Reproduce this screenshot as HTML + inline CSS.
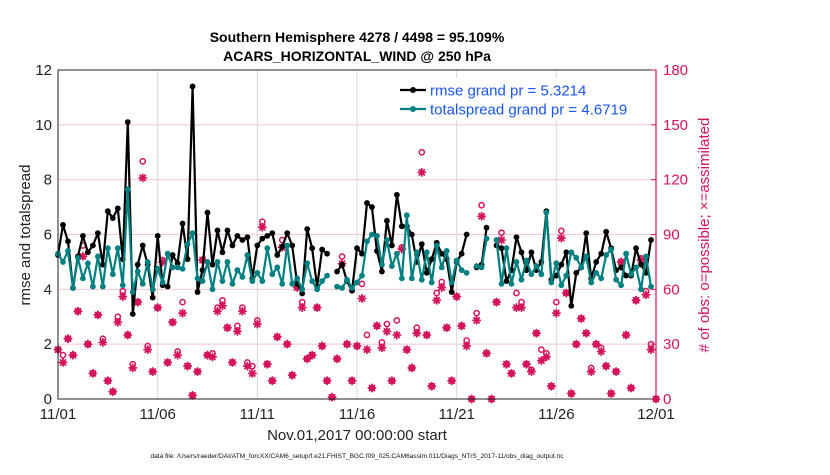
<!DOCTYPE html>
<html><head><meta charset="utf-8"><style>
body{margin:0;background:#fff}
svg text{font-family:"Liberation Sans",sans-serif}
</style></head><body>
<svg id="chart" width="830" height="470" viewBox="0 0 830 470" xmlns="http://www.w3.org/2000/svg">
<rect width="830" height="470" fill="#fff"/>
<text x="357" y="42" text-anchor="middle" font-size="14" font-weight="bold">Southern Hemisphere 4278 / 4498 = 95.109%</text>
<text x="357" y="61" text-anchor="middle" font-size="14" font-weight="bold">ACARS_HORIZONTAL_WIND @ 250 hPa</text>
<g id="grid"></g>
<g id="obs"></g>
<g id="series"></g>
<rect x="58" y="70" width="598" height="329" fill="none" stroke="#222" stroke-width="1"/>
<line x1="656" y1="70" x2="656" y2="399" stroke="#d4145a" stroke-width="1.2"/>
<g id="ticks"></g>
<text transform="translate(30,235) rotate(-90)" text-anchor="middle" font-size="15" fill="#222">rmse and totalspread</text>
<text transform="translate(709,235) rotate(-90)" text-anchor="middle" font-size="15" fill="#d4145a"># of obs: o=possible; ×=assimilated</text>
<text x="357" y="440" text-anchor="middle" font-size="15" fill="#222">Nov.01,2017 00:00:00 start</text>
<text x="357" y="458" text-anchor="middle" font-size="6.6" fill="#111">data file: /Users/raeder/DAI/ATM_forcXX/CAM6_setup/f.e21.FHIST_BGC.f09_025.CAM6assim.011/Diags_NTrS_2017-11/obs_diag_output.nc</text>
<g id="legend">
<rect x="395" y="78" width="258" height="42" fill="#fff"/>
<line x1="400" y1="90" x2="426" y2="90" stroke="#000" stroke-width="2.2"/><circle cx="413" cy="90" r="3" fill="#000"/>
<text x="430" y="95.5" font-size="15" fill="#1a56f0">rmse grand pr = 5.3214</text>
<line x1="400" y1="109" x2="426" y2="109" stroke="#008080" stroke-width="2.2"/><circle cx="413" cy="109" r="3" fill="#008080"/>
<text x="430" y="114.5" font-size="15" fill="#1a56f0">totalspread grand pr = 4.6719</text>
</g>
</svg>
<script>
const N = null;
const rmse = [5.25,6.35,5.75,4.05,5.2,5.95,5.35,5.6,6.05,4.9,6.85,6.6,6.95,5.1,10.1,3.1,4.9,5.6,4.9,3.7,5.95,4.15,4.1,5.25,4.95,6.4,5.1,11.4,3.9,4.7,6.8,4.9,6.15,5.35,6.15,5.6,5.95,5.8,5.9,4.4,5.6,5.85,5.95,6.05,5.25,5.55,6.05,5.6,4.2,3.85,6.2,5.5,4.1,5.45,5.3,N,4.65,4.9,4.3,3.95,5.5,5.3,7.15,7.0,5.4,4.65,6.5,5.6,7.45,6.3,6.3,6.0,5.0,5.65,4.6,5.1,5.7,5.3,5.1,3.9,5.0,5.3,6.0,N,4.8,4.9,6.25,N,5.6,5.5,4.3,4.7,5.9,5.35,4.7,5.35,4.7,5.0,6.85,4.35,4.5,4.9,5.35,3.4,4.6,4.8,6.05,4.4,5.0,5.3,6.1,5.5,4.7,4.8,4.5,4.5,5.5,4.9,4.6,5.8,N];
const spread = [5.3,5.0,5.4,4.05,5.15,4.4,4.95,4.1,5.2,4.1,5.5,4.55,5.5,4.15,7.65,3.9,4.65,4.2,5.0,4.0,4.75,4.25,5.3,4.8,4.8,4.75,5.65,6.05,4.4,4.3,5.0,4.0,5.0,4.3,5.0,4.2,4.7,4.45,5.25,4.3,4.6,4.3,5.5,4.55,4.8,4.2,5.6,4.2,4.4,4.0,4.95,4.3,4.0,4.3,4.5,N,4.1,4.05,4.35,4.05,4.25,4.5,5.75,6.0,5.95,4.9,5.8,4.85,5.3,4.4,6.7,4.4,5.35,4.35,5.35,4.25,5.6,4.8,5.4,4.25,5.05,4.7,4.6,N,4.85,4.8,5.85,N,5.8,4.2,5.5,4.2,5.0,4.35,5.05,4.55,4.85,4.55,6.8,4.25,4.95,4.15,4.5,5.35,5.15,4.8,5.2,4.25,4.6,4.4,5.25,5.45,4.35,4.15,5.3,4.55,4.8,4.0,5.2,4.1,N];
const nAssim = [27,20,33,24,48,78,30,14,46,31,10,4,42,56,35,17,53,121,27,15,50,75,20,42,24,47,18,2,15,76,24,23,48,51,39,20,37,48,18,14,41,94,19,10,34,83,30,13,61,50,22,24,50,29,10,1,22,74,30,10,29,55,27,6,40,28,37,10,35,82,27,17,36,124,35,7,54,61,39,10,56,40,29,0,43,100,25,0,53,87,19,14,50,50,19,15,36,21,23,7,47,88,58,3,30,44,36,15,30,26,18,3,15,75,35,6,54,76,57,27,0];
const nPoss = [27,24,33,24,48,84,30,14,46,33,10,4,45,59,35,19,53,130,29,15,50,76,20,42,26,53,18,2,15,76,24,25,50,54,39,20,40,50,20,18,43,97,19,10,34,87,30,13,61,53,22,24,50,29,10,1,22,78,30,10,29,63,35,6,40,31,41,10,43,83,27,17,39,135,35,7,58,64,39,10,56,40,32,0,47,106,25,0,53,91,19,14,58,53,19,16,36,27,25,7,53,92,58,3,30,44,36,17,30,28,18,3,15,75,35,6,54,77,59,30,0];
const xTicks = ['11/01','11/06','11/11','11/16','11/21','11/26','12/01'];
const yTicks = [0,2,4,6,8,10,12];
const rTicks = [0,30,60,90,120,150,180];

const NS='http://www.w3.org/2000/svg';
const X0=58,X1=656,Y0=399,Y1=70;
const xs = i => X0 + (X1-X0)*(i/4)/30;
const ys = v => Y0 - (Y0-Y1)*v/12;
const yr = v => Y0 - (Y0-Y1)*v/180;
function mk(tag, attrs, parent){const e=document.createElementNS(NS,tag);for(const k in attrs)e.setAttribute(k,attrs[k]);parent.appendChild(e);return e;}
const grid=document.getElementById('grid'), ticks=document.getElementById('ticks'), obs=document.getElementById('obs'), ser=document.getElementById('series');

yTicks.forEach(v=>{
  if(v>0&&v<12){const l=mk('line',{x1:X0,x2:X1,y1:ys(v),y2:ys(v),stroke:'#f2c4d4','stroke-width':1},grid);
  
  }
  const t=mk('text',{x:X0-6,y:ys(v)+5,'text-anchor':'end','font-size':15,fill:'#222'},ticks);t.textContent=v;
  
  
});
rTicks.forEach(v=>{
  mk('line',{x1:X1,x2:X1-5,y1:yr(v),y2:yr(v),stroke:'#d4145a'},ticks);
  const t=mk('text',{x:X1+7,y:yr(v)+5,'font-size':15,fill:'#d4145a'},ticks);t.textContent=v;
  
  
});
xTicks.forEach((s,k)=>{
  const x=xs(k*20);
  if(k>0&&k<6){const l=mk('line',{x1:x,x2:x,y1:Y1,y2:Y0,stroke:'#d8d8d8','stroke-width':1},grid);
  
  }
  const t=mk('text',{x:x,y:419,'text-anchor':'middle','font-size':15,fill:'#222'},ticks);t.textContent=s;
  
  
});

const red='#d4145a';
nPoss.forEach((v,i)=>{
  const c=mk('circle',{cx:xs(i),cy:yr(v),r:2.6,fill:'none',stroke:red,'stroke-width':1.5},obs);
  
  
});
nAssim.forEach((v,i)=>{
  const x=xs(i),y=yr(v),r=3.6;
  const g=mk('g',{stroke:red,'stroke-width':1.8,'stroke-linecap':'round'},obs);
  
  
  mk('line',{x1:x-r,y1:y,x2:x+r,y2:y},g);
  mk('line',{x1:x,y1:y-r,x2:x,y2:y+r},g);
  mk('line',{x1:x-r*0.7,y1:y-r*0.7,x2:x+r*0.7,y2:y+r*0.7},g);
  mk('line',{x1:x-r*0.7,y1:y+r*0.7,x2:x+r*0.7,y2:y-r*0.7},g);
});

function drawSeries(arr,color,name){
  let d='',pen=false;
  arr.forEach((v,i)=>{ if(v===null){pen=false;return;} d+=(pen?'L':'M')+xs(i).toFixed(1)+' '+ys(v).toFixed(1)+' '; pen=true; });
  const p=mk('path',{d:d,fill:'none',stroke:color,'stroke-width':2.2,'stroke-linejoin':'round'},ser);
  
  
  arr.forEach((v,i)=>{ if(v===null)return;
    const c=mk('circle',{cx:xs(i),cy:ys(v),r:2.9,fill:color},ser);
    
    
  });
}
drawSeries(rmse,'#000','rmse');
drawSeries(spread,'#008080','totalspread');
</script>
</body></html>
